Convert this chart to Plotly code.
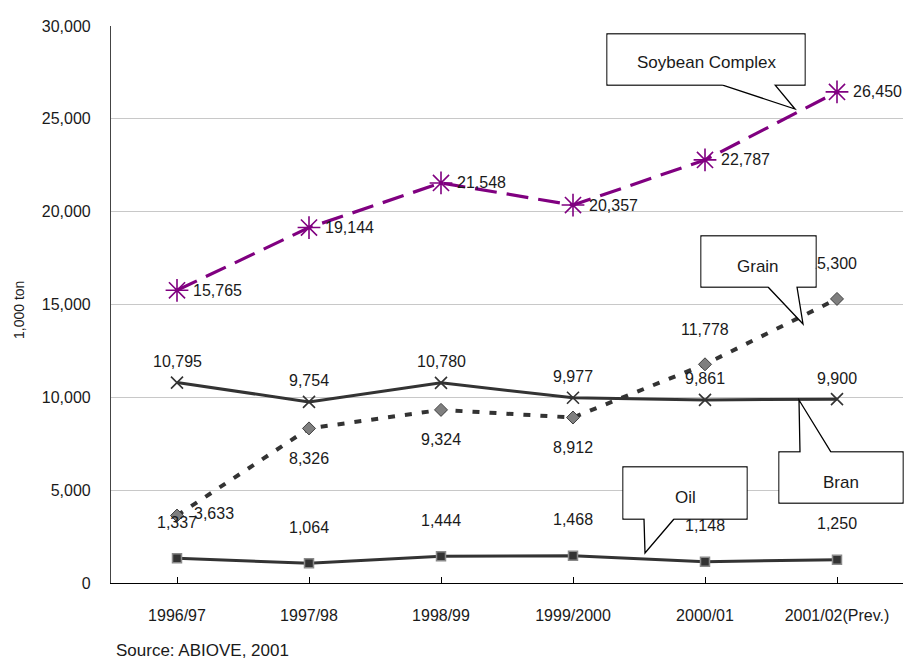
import plotly.graph_objects as go

# ---- data -------------------------------------------------------------
seasons = ["1996/97", "1997/98", "1998/99", "1999/2000", "2000/01", "2001/02(Prev.)"]
soybean_complex = [15765, 19144, 21548, 20357, 22787, 26450]
grain = [3633, 8326, 9324, 8912, 11778, 15300]
bran = [10795, 9754, 10780, 9977, 9861, 9900]
oil = [1337, 1064, 1444, 1468, 1148, 1250]
y_ticks = [0, 5000, 10000, 15000, 20000, 25000, 30000]

# ---- layout constants (pixels) ----------------------------------------
W, H = 904, 661
M_L, M_R, M_T, M_B = 111, 1, 26, 78
PLOT_W = W - M_L - M_R
PLOT_H = H - M_T - M_B

FONT = "Liberation Sans, Arial, sans-serif"
TXT = "#1a1a1a"
DARK = "#333333"
PURPLE = "#800080"


def px(x):
    """Pixel x -> paper x."""
    return (x - M_L) / PLOT_W


def py(y):
    """Pixel y (from top) -> paper y."""
    return (H - M_B - y) / PLOT_H


def path(points):
    s = "M " + " L ".join(f"{px(a):.5f},{py(b):.5f}" for a, b in points)
    return s + " Z"


idx = list(range(len(seasons)))
fig = go.Figure()

fig.add_trace(go.Scatter(
    x=idx, y=bran, mode="lines+markers", name="Bran",
    line=dict(color=DARK, width=3),
    marker=dict(symbol="x-thin-open", size=12, line=dict(color=DARK, width=1.6)),
))
fig.add_trace(go.Scatter(
    x=idx, y=oil, mode="lines+markers", name="Oil",
    line=dict(color=DARK, width=3),
    marker=dict(symbol="square", size=9, color=DARK, line=dict(color="#8a8a8a", width=1.5)),
))
fig.add_trace(go.Scatter(
    x=idx, y=grain, mode="lines+markers", name="Grain",
    line=dict(color=DARK, width=4, dash="7px,10px"),
    marker=dict(symbol="diamond", size=10, color="#7f7f7f", line=dict(color="#404040", width=1)),
))
fig.add_trace(go.Scatter(
    x=idx, y=soybean_complex, mode="lines+markers", name="Soybean Complex",
    line=dict(color=PURPLE, width=3.2, dash="22px,10px"),
    marker=dict(symbol="asterisk-open", size=19, line=dict(color=PURPLE, width=1.6)),
))

annotations = []


def label(i, v, xanchor="center", xshift=0, yshift=0):
    annotations.append(dict(
        x=i, y=v, xref="x", yref="y", text=f"{v:,}", showarrow=False,
        xanchor=xanchor, yanchor="middle", xshift=xshift, yshift=yshift,
        font=dict(family=FONT, size=16, color=TXT),
    ))


for i, v in enumerate(soybean_complex):
    label(i, v, xanchor="left", xshift=14, yshift=0)
for i, v in enumerate(bran):
    label(i, v, yshift=21)
for i, v in enumerate(oil):
    label(i, v, yshift=36)
for i, v in enumerate(grain):
    if i == 0:
        label(i, v, xanchor="left", xshift=15, yshift=2)
    elif i == len(grain) - 1:
        # partly tucked behind the "Grain" callout box
        label(i, v, xshift=-5, yshift=35)
    elif v > 10000:
        label(i, v, yshift=35)
    else:
        label(i, v, yshift=-30)

# ---- callouts ---------------------------------------------------------
callouts = [
    # (outline points, text, text centre, box rect)
    ([(607, 34), (805, 34), (805, 85), (775, 85), (795, 109), (722, 85), (607, 85)],
     "Soybean Complex", (706, 63), (607, 34, 805, 85)),
    ([(701, 236), (816, 236), (816, 287), (797, 287), (803, 324), (768, 287), (701, 287)],
     "Grain", (758, 266), (701, 236, 816, 287)),
    ([(623, 467), (747, 467), (747, 519), (674, 519), (645, 553), (644, 519), (623, 519)],
     "Oil", (685, 497), (623, 467, 747, 519)),
    ([(779, 452), (800, 452), (799, 400), (831, 452), (903, 452), (903, 503), (779, 503)],
     "Bran", (841, 482), (779, 452, 903, 503)),
]

shapes = []
for pts, text, (tx, ty), (x0, y0, x1, y1) in callouts:
    shapes.append(dict(
        type="path", path=path(pts), xref="paper", yref="paper", layer="above",
        fillcolor="white", line=dict(color="black", width=1.3),
    ))
    # white panel inside the box, kept above the value labels
    annotations.append(dict(
        x=px((x0 + x1) / 2), y=py((y0 + y1) / 2), xref="paper", yref="paper",
        text=" ", showarrow=False, xanchor="center", yanchor="middle",
        width=(x1 - x0) - 1.6, height=(y1 - y0) - 1.6, bgcolor="white", borderpad=0,
        font=dict(family=FONT, size=10, color=TXT),
    ))
    annotations.append(dict(
        x=px(tx), y=py(ty), xref="paper", yref="paper", text=text,
        showarrow=False, xanchor="center", yanchor="middle",
        font=dict(family=FONT, size=17, color=TXT),
    ))

# source note
annotations.append(dict(
    x=px(114), y=py(650), xref="paper", yref="paper", text="Source: ABIOVE, 2001",
    showarrow=False, xanchor="left", yanchor="middle",
    font=dict(family=FONT, size=17, color=TXT),
))
# y-axis title
annotations.append(dict(
    x=px(19), y=py(310), xref="paper", yref="paper", text="1,000 ton",
    showarrow=False, textangle=-90, xanchor="center", yanchor="middle",
    font=dict(family=FONT, size=14, color=TXT),
))

fig.update_layout(
    width=W, height=H,
    margin=dict(l=M_L, r=M_R, t=M_T, b=M_B, pad=0),
    paper_bgcolor="white", plot_bgcolor="white",
    showlegend=False,
    font=dict(family=FONT, size=16, color=TXT),
    shapes=shapes, annotations=annotations,
    xaxis=dict(
        range=[-0.5, 5.5], tickmode="array", tickvals=idx, ticktext=seasons,
        showgrid=False, zeroline=False,
        showline=True, linecolor="black", linewidth=1.2,
        ticks="inside", tickson="boundaries", ticklen=6, tickcolor="black", tickwidth=1,
        ticklabelstandoff=18,
        tickfont=dict(family=FONT, size=16, color=TXT),
    ),
    yaxis=dict(
        range=[0, 30000], tickvals=y_ticks, tickformat=",d",
        showgrid=True, gridcolor="#c8c8c8", gridwidth=1,
        zeroline=False, showline=True, linecolor="#444444", linewidth=1.2,
        ticks="", ticklabelstandoff=16,
        tickfont=dict(family=FONT, size=16, color=TXT),
    ),
)

fig.write_html("out.html")
